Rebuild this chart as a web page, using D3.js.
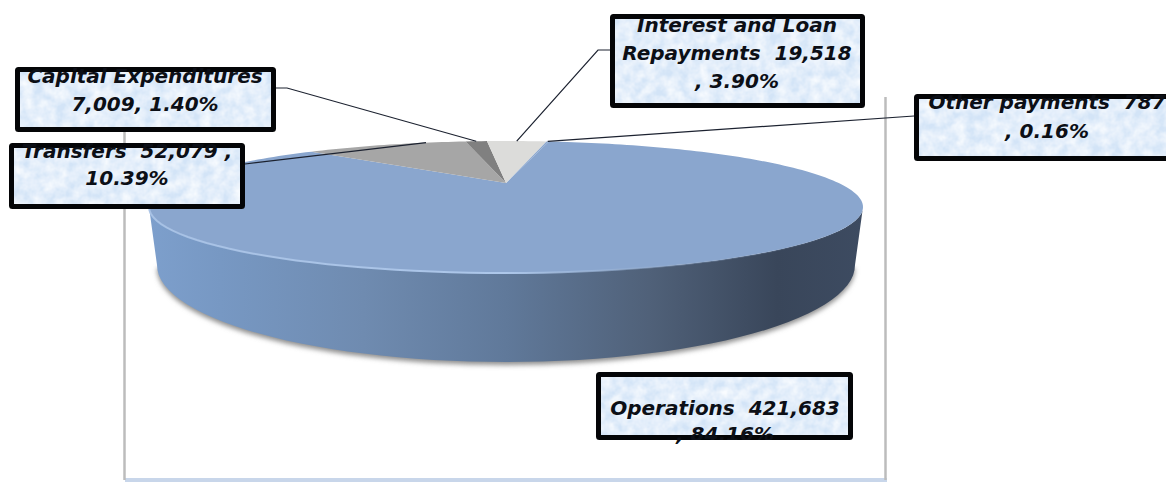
<!DOCTYPE html>
<html>
<head>
<meta charset="utf-8">
<script src="https://cdn.jsdelivr.net/npm/d3@7/dist/d3.min.js"></script>
<style>
  html, body { margin: 0; padding: 0; background: #fff; overflow: hidden; }
  svg { display: block; }
  text { font-family: "DejaVu Sans", sans-serif; font-weight: bold; font-style: italic; fill: #0c0f16; }
</style>
</head>
<body>
<svg id="chart" width="1166" height="482"></svg>
<script>
// Payments by category
const categories = ["Operations", "Transfers", "Capital Expenditures", "Interest and Loan Repayments", "Other payments"];
const amounts = [421683, 52079, 7009, 19518, 787];
const sliceColors = ["#8aa6ce", "#a6a6a6", "#808080", "#dcdcda", "#8aa6ce"];
const labelLines = [
  ["Operations  421,683", ", 84.16%"],
  ["Transfers  52,079 ,", "10.39%"],
  ["Capital Expenditures", "7,009, 1.40%"],
  ["Interest and Loan", "Repayments  19,518", ", 3.90%"],
  ["Other payments  787", ", 0.16%"]
];
// Callout boxes: [left, top, right, bottom, text centre x, first baseline, line step]
const calloutBoxes = [
  [596, 372, 853, 440, 725, 415, 26],
  [9, 143, 245, 209, 127, 158, 27],
  [15, 67, 276, 132, 145, 83, 28],
  [610, 14, 865, 108, 737, 32, 28],
  [914, 94, 1172, 161, 1047, 109, 29]
];
// Leader lines run from the box edge, through an optional elbow, to the rim of the slice
const leaderPaths = [
  null,
  [[245, 164]],
  [[276, 88], [287, 88]],
  [[610, 50], [598, 50]],
  [[914, 116]]
];

const svg = d3.select("#chart");
const defs = svg.append("defs");

// Disc geometry: upper face, lower edge and the apparent centre under perspective
const upper = { cx: 506, cy: 207, rx: 357, ry: 66 };
const lower = { cx: 506, cy: 265, rx: 349, ry: 97 };
const shift = 0.364;
const squeeze = Math.sqrt(1 - shift * shift);

// Pie angle to screen position on the tilted disc (r = 0 centre, r = 1 rim)
function project(angle, r) {
  const u = r * Math.sin(angle), v = r * Math.cos(angle);
  const d = 1 + shift * v;
  return [upper.cx + upper.rx * (u * squeeze / d), upper.cy - upper.ry * ((v + shift) / d)];
}

const rad = d3.scaleLinear().domain([0, 360]).range([0, 2 * Math.PI]);
const pie = d3.pie().sort(null).startAngle(rad(10.1)).endAngle(rad(370.1));
const arcs = pie(amounts);
const line = d3.line();

// Frame around the plot
const frame = svg.append("g");
frame.append("rect").attr("x", 125).attr("y", 478).attr("width", 762).attr("height", 4).attr("fill", "#c8d6ea");
frame.selectAll("line").data([124.5, 885.5]).join("line")
  .attr("x1", d => d).attr("x2", d => d).attr("y1", 97).attr("y2", 480)
  .attr("stroke", "#bcbcbc").attr("stroke-width", 2.5);

// Soft shadow and side wall
defs.append("filter").attr("id", "soft").attr("x", "-5%").attr("y", "-10%").attr("width", "110%").attr("height", "120%")
  .append("feGaussianBlur").attr("stdDeviation", 2.5);

const sideGrad = defs.append("linearGradient").attr("id", "side")
  .attr("gradientUnits", "userSpaceOnUse").attr("x1", 149).attr("x2", 863).attr("y1", 0).attr("y2", 0);
[[0, "#7d9fcc"], [0.1, "#7798c3"], [0.3, "#6f8bb0"], [0.5, "#60799a"], [0.7, "#506179"], [0.88, "#39465a"], [1, "#3d4b61"]]
  .forEach(([o, c]) => sideGrad.append("stop").attr("offset", o).attr("stop-color", c));

const halfTurn = d3.range(0, 181, 3).map(d => rad(d));
const ellipsePoint = (e, t) => [e.cx - e.rx * Math.cos(t), e.cy + e.ry * Math.sin(t)];
const upperArc = halfTurn.map(t => ellipsePoint(upper, t));
const lowerArc = halfTurn.map(t => ellipsePoint(lower, t));

svg.append("path")
  .attr("d", line(lowerArc.map(([x, y]) => [x, y + 3])) + "Z")
  .attr("fill", "#8e8e8e").attr("filter", "url(#soft)");
svg.append("path")
  .attr("d", line(upperArc.concat(lowerArc.slice().reverse())) + "Z")
  .attr("fill", "url(#side)");

// Upper face, one wedge per amount
svg.append("g").selectAll("path").data(arcs).join("path")
  .attr("d", d => {
    const n = Math.max(2, Math.ceil((d.endAngle - d.startAngle) * 40));
    const rim = d3.range(n + 1).map(i => project(d.startAngle + (d.endAngle - d.startAngle) * i / n, 1));
    return line([project(0, 0), ...rim]) + "Z";
  })
  .attr("fill", (d, i) => sliceColors[i]);

// Pale bevel along the front of the upper face
const rimGrad = defs.append("linearGradient").attr("id", "rim")
  .attr("gradientUnits", "userSpaceOnUse").attr("x1", 149).attr("x2", 863).attr("y1", 0).attr("y2", 0);
[[0, "#a9c3e6", 0.9], [0.5, "#adc7ea", 1], [0.75, "#8fa9cd", 0.4], [1, "#8aa6ce", 0]]
  .forEach(([o, c, a]) => rimGrad.append("stop").attr("offset", o).attr("stop-color", c).attr("stop-opacity", a));
svg.append("path")
  .attr("d", line(upperArc))
  .attr("fill", "none").attr("stroke", "url(#rim)").attr("stroke-width", 2);

// Leader lines
svg.append("g").selectAll("path").data(arcs.filter((d, i) => leaderPaths[i]))
  .join("path")
  .attr("d", d => {
    const i = arcs.indexOf(d);
    const mid = i === 1 ? d.startAngle + (d.endAngle - d.startAngle) * 0.75 : (d.startAngle + d.endAngle) / 2;
    return line([...leaderPaths[i], project(mid, 1)]);
  })
  .attr("fill", "none").attr("stroke", "#1c2230").attr("stroke-width", 1.2);

// Mottled fill for the callouts
const mottle = defs.append("filter").attr("id", "mottle").attr("x", 0).attr("y", 0).attr("width", "100%").attr("height", "100%");
mottle.append("feTurbulence").attr("type", "fractalNoise").attr("baseFrequency", 0.09).attr("numOctaves", 3).attr("seed", 4).attr("result", "n");
mottle.append("feColorMatrix").attr("in", "n").attr("type", "matrix")
  .attr("values", "0 0 0 0 0.95  0 0 0 0 0.975  0 0 0 0 1  1.5 0 0 0 -0.35").attr("result", "tint");
mottle.append("feComposite").attr("in", "tint").attr("in2", "SourceGraphic").attr("operator", "atop");

const boxes = svg.append("g").selectAll("g").data(calloutBoxes).join("g");
boxes.each(function (b, i) {
  const [x0, y0, x1, y1, tx, ty, step] = b;
  const g = d3.select(this);
  const clip = defs.append("clipPath").attr("id", "clip" + i);
  clip.append("rect").attr("x", x0).attr("y", y0).attr("width", x1 - x0).attr("height", y1 - y0);
  // The comma of the last line hangs just past the bottom border of the Operations box
  if (i === 0) clip.append("rect").attr("x", 672).attr("y", y1).attr("width", 12).attr("height", 6);
  g.append("rect")
    .attr("x", x0 + 2.5).attr("y", y0 + 2.5).attr("width", x1 - x0 - 5).attr("height", y1 - y0 - 5)
    .attr("fill", "#d3e4f7").attr("filter", "url(#mottle)");
  g.append("rect")
    .attr("x", x0 + 2.5).attr("y", y0 + 2.5).attr("width", x1 - x0 - 5).attr("height", y1 - y0 - 5)
    .attr("rx", 1).attr("fill", "none").attr("stroke", "#040507").attr("stroke-width", 5);
  g.append("g").attr("clip-path", "url(#clip" + i + ")")
    .selectAll("text").data(labelLines[i]).join("text")
    .attr("x", tx).attr("y", (d, k) => ty + k * step)
    .attr("text-anchor", "middle").attr("font-size", 20)
    .style("white-space", "pre")
    .text(d => d);
});
</script>
</body>
</html>
